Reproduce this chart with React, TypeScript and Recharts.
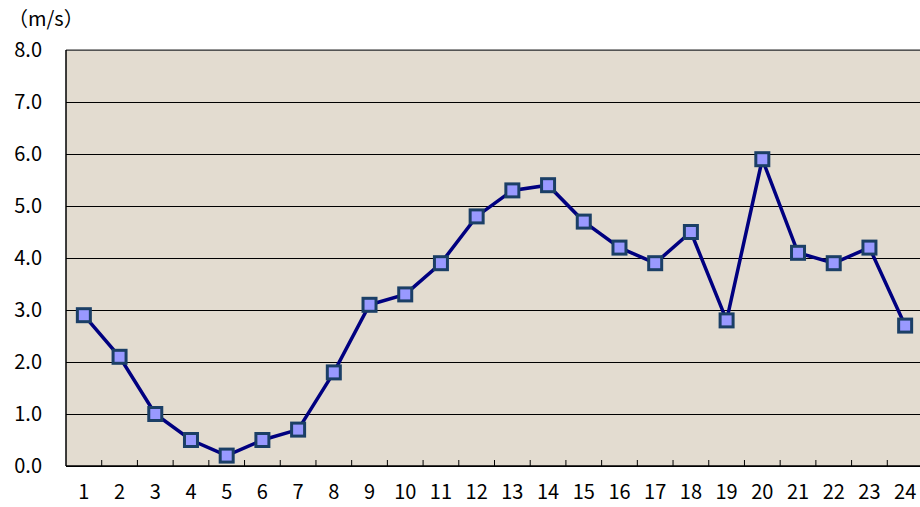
import React from 'react';
import { LineChart, Line, XAxis, YAxis, CartesianGrid, ReferenceLine } from 'recharts';

// hours 1..24 and wind speed (m/s)
const hours = [1, 2, 3, 4, 5, 6, 7, 8, 9, 10, 11, 12, 13, 14, 15, 16, 17, 18, 19, 20, 21, 22, 23, 24];
const speeds = [2.9, 2.1, 1.0, 0.5, 0.2, 0.5, 0.7, 1.8, 3.1, 3.3, 3.9, 4.8, 5.3, 5.4, 4.7, 4.2, 3.9, 4.5, 2.8, 5.9, 4.1, 3.9, 4.2, 2.7];
const yTicks = [0, 1, 2, 3, 4, 5, 6, 7, 8];

const data = hours.map((h, i) => ({ hour: h, speed: speeds[i] }));

const FONT = '"Noto Sans CJK JP", "Noto Sans", sans-serif';

// square marker like the spreadsheet chart
const SquareDot = (props: any) => {
  const { cx, cy } = props;
  if (cx == null || cy == null) return null;
  return (
    <rect x={cx - 6.5} y={cy - 6.5} width={13} height={13} fill="#9999FF" stroke="#1B3F66" strokeWidth={3} />
  );
};

// hour label plus the inner tick mark on the boundary to its right
const HourTick = (props: any) => {
  const { x, y, width, index, payload, visibleTicksCount } = props;
  const step = width / visibleTicksCount;
  return (
    <g>
      {index < visibleTicksCount - 1 && (
        <line x1={x + step / 2} x2={x + step / 2} y1={y} y2={y - 6} stroke="#000" strokeWidth={1} />
      )}
      <text x={x} y={y + 33} textAnchor="middle" fill="#000" fontSize={20} fontFamily={FONT}>
        {payload.value}
      </text>
    </g>
  );
};

export default function App() {
  return (
    <div style={{ position: 'fixed', left: 0, top: 0, width: 920, height: 507, overflow: 'hidden', fontFamily: FONT, background: '#fff' }}>
      <div style={{ position: 'absolute', left: 8, top: 8, fontSize: 20, lineHeight: 1, color: '#000' }}>（m/s）</div>
      <LineChart width={923} height={507} data={data} margin={{ top: 50, right: 0, bottom: 0, left: 8 }}>
        <CartesianGrid
          horizontal
          vertical={false}
          stroke="#000"
          strokeOpacity={1}
          fill="#E3DCD0"
          fillOpacity={1}
          shapeRendering="crispEdges"
        />
        <XAxis
          dataKey="hour"
          type="number"
          domain={[0.5, 24.5]}
          ticks={hours}
          height={41}
          tickSize={0}
          tickMargin={0}
          axisLine={{ stroke: '#000', strokeWidth: 1.5 }}
          tickLine={false}
          interval={0}
          tick={<HourTick />}
        />
        <YAxis
          domain={[0, 8]}
          ticks={yTicks}
          width={58}
          tickSize={0}
          tickMargin={24}
          axisLine={{ stroke: '#000', strokeWidth: 1.5 }}
          tickLine={false}
          tickFormatter={(v) => v.toFixed(1)}
          tick={{ fill: '#000', fontSize: 20, fontFamily: FONT }}
        />
        <ReferenceLine y={8} stroke="#707070" strokeWidth={1.5} />
        <Line
          type="linear"
          dataKey="speed"
          stroke="#000080"
          strokeWidth={3.5}
          dot={<SquareDot />}
          activeDot={false}
          isAnimationActive={false}
        />
      </LineChart>
    </div>
  );
}
